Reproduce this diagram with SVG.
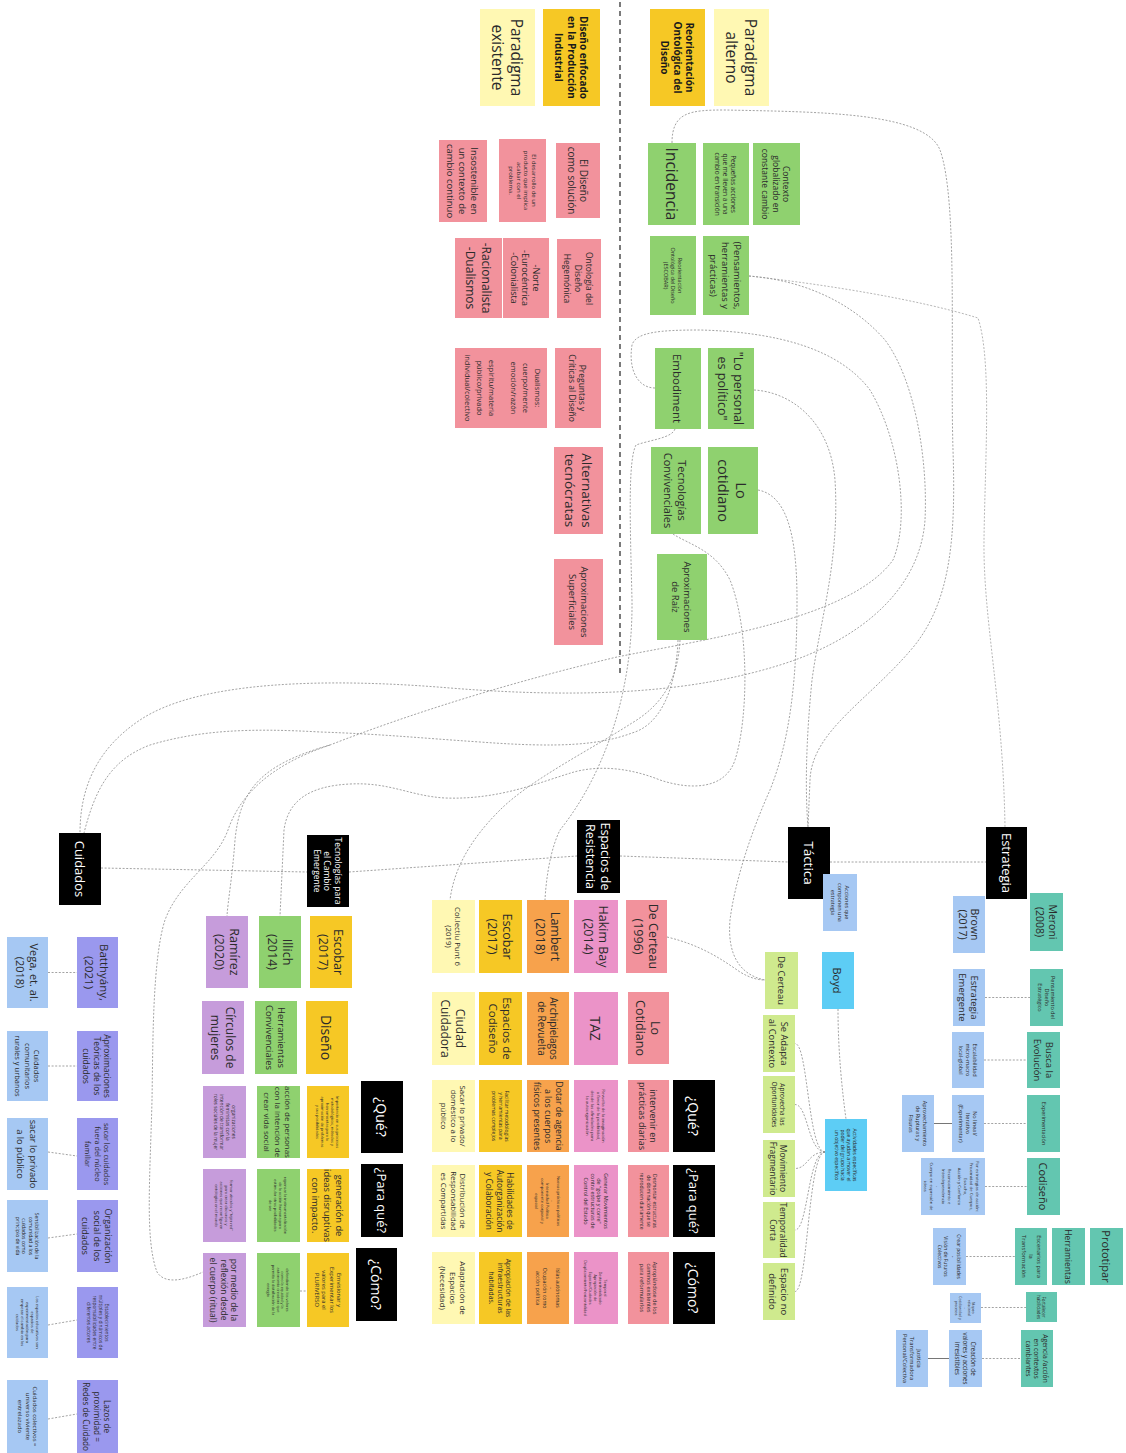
<svg xmlns="http://www.w3.org/2000/svg" width="1126" height="1453" viewBox="0 0 1126 1453">
<style>
text{font-family:"Open Sans","Liberation Sans",sans-serif;fill:#2b2b2b;text-anchor:middle;dominant-baseline:central}
.w text,text.w{fill:#fff}
.b{font-weight:bold;fill:#1a1a1a}
.py{fill:#FFF8B3}.gd{fill:#F6C825}.pk{fill:#F2929C}.gr{fill:#8FD16F}.bk{fill:#000}
.bl{fill:#A6C8F3}.tl{fill:#63C6B0}.cy{fill:#5DCDF5}.lm{fill:#CFEA8E}.mg{fill:#EB93C8}
.or{fill:#F7A24C}.pu{fill:#C69CDB}.pw{fill:#9A98EE}
.c{fill:none;stroke:#8c8c8c;stroke-width:0.8;stroke-dasharray:2 1.6}
.s{fill:none;stroke:#666;stroke-width:0.9}
.sep{fill:none;stroke:#222;stroke-width:1.2;stroke-dasharray:5 4}
</style>
<rect width="1126" height="1453" fill="#fff"/>

<g id="connectors">
<path class="sep" d="M620,2 L620,676"/>
<path class="c" d="M672,143 C672,112 690,110 725,110 C820,112 925,112 940,150 C958,200 950,350 953,450 C956,540 950,600 915,645 C870,700 812,730 810,780 L808,827"/>
<path class="c" d="M749,276 C830,285 920,300 978,318 C992,360 985,460 984,540 C983,620 1003,700 1005,827" stroke-opacity="0.8"/>
<path class="c" d="M749,276 C800,280 850,300 885,340 C915,380 928,460 925,520 C920,590 860,640 780,665 C700,690 600,700 450,688 C330,678 200,680 140,720 C95,750 80,790 80,833"/>
<path class="c" d="M754,390 C790,392 830,420 835,480 C840,560 820,620 812,680 C806,740 805,790 808,827"/>
<path class="c" d="M758,490 C785,495 797,530 797,600 C797,680 790,740 770,790 C752,830 735,880 730,920 C727,955 740,975 765,980"/>
<path class="c" d="M667,937 C700,945 720,958 740,972 C750,978 758,980 765,980"/>
<path class="c" d="M655,388 C638,388 628,370 632,345 C636,332 660,330 700,330 C780,332 840,350 870,390 C900,440 910,520 893,560 C850,620 700,640 617,657 C520,680 420,710 330,745 C260,765 240,790 235,840 C232,880 228,900 227,916"/>
<path class="c" d="M330,745 C270,765 240,795 228,830 C215,865 180,880 165,920 C152,960 153,1050 152,1100 C150,1180 145,1240 157,1272 C165,1285 185,1280 203,1272"/>
<path class="c" d="M675,429 C672,438 650,440 636,445 C628,460 630,520 632,600 C633,700 600,780 560,830 C550,850 546,880 545,900"/>
<path class="c" d="M673,534 C690,545 715,550 730,580 C750,630 748,720 735,760 C725,790 690,790 660,780 C630,768 600,765 574,772 C540,782 500,800 445,798 C410,796 390,782 350,784 C310,786 288,800 284,830 L280,916"/>
<path class="c" d="M678,640 C676,690 660,725 632,733 C600,745 560,748 480,742 C420,738 380,734 320,732 C250,728 200,730 150,745 C110,760 95,790 84,833"/>
<path class="c" d="M680,640 C678,680 662,705 632,723 C590,750 530,780 500,810 C480,830 455,860 450,900"/>
<path class="c" d="M101,868 L307,872"/>
<path class="c" d="M349,872 L577,856"/>
<path class="c" d="M620,856 L788,862"/>
<path class="c" d="M830,862 L986,862"/>
<path class="c" d="M838,1009 C838,1050 842,1090 846,1119"/>
<path class="c" d="M825,1152 C808,1152 808,1043.5 795,1043.5"/>
<path class="c" d="M825,1152 C808,1152 808,1104.5 795,1104.5"/>
<path class="c" d="M825,1152 C808,1152 808,1168.5 795,1168.5"/>
<path class="c" d="M825,1152 C808,1152 808,1230 795,1230"/>
<path class="c" d="M825,1152 C808,1152 808,1291.5 795,1291.5"/>
<path class="c" d="M985,997.5 L1030,997.5"/>
<path class="c" d="M984,1060 L1027,1060"/>
<path class="c" d="M984,1123.5 L1027,1123.5"/>
<path class="c" d="M985,1186.5 L1027,1186.5"/>
<path class="c" d="M966,1256.5 L1015,1256.5"/>
<path class="c" d="M981,1307.5 L1026,1307.5"/>
<path class="c" d="M982,1358.5 L1021,1358.5"/>
<path class="s" d="M934,1123.5 L952,1123.5"/>
<path class="s" d="M928,1358.5 L949,1358.5"/>
<path class="c" d="M48,972.5 L77,972.5"/>
<path class="c" d="M48,1066 L77,1066"/>
<path class="c" d="M48,1152 L77,1156"/>
<path class="c" d="M48,1238 L77,1234"/>
<path class="c" d="M48,1325 L77,1320"/>
<path class="c" d="M48,1419 L77,1414"/>
<path class="c" d="M300,1291 L307,1291"/>
</g>

<g id="n-par-existente"><rect class="py" x="480" y="9" width="55" height="97"/><text transform="translate(507.5 57.5) rotate(90)" font-size="15.5"><tspan x="0" y="-9.7">Paradigma</tspan><tspan x="0" y="9.7">existente</tspan></text></g>
<g id="n-dis-industrial"><rect class="gd" x="543" y="9" width="57" height="97"/><text class="b" transform="translate(571.5 57.5) rotate(90)" font-size="10"><tspan x="0" y="-12.5">Diseño enfocado</tspan><tspan x="0" y="0">en la Producción</tspan><tspan x="0" y="12.5">Industrial</tspan></text></g>
<g id="n-reorientacion"><rect class="gd" x="650" y="9" width="55" height="97"/><text class="b" transform="translate(677.5 57.5) rotate(90)" font-size="10"><tspan x="0" y="-12.5">Reorientación</tspan><tspan x="0" y="0">Ontológica del</tspan><tspan x="0" y="12.5">Diseño</tspan></text></g>
<g id="n-par-alterno"><rect class="py" x="714" y="9" width="55" height="97"/><text transform="translate(741.5 57.5) rotate(90)" font-size="15.5"><tspan x="0" y="-9.7">Paradigma</tspan><tspan x="0" y="9.7">alterno</tspan></text></g>

<g id="n-insostenible"><rect class="pk" x="439" y="140" width="48" height="82"/><text transform="translate(463 181) rotate(90)" font-size="9.5"><tspan x="0" y="-11.9">Insostenible en</tspan><tspan x="0" y="0">un contexto de</tspan><tspan x="0" y="11.9">cambio continuo</tspan></text></g>
<g id="n-desarrollo"><rect class="pk" x="499" y="139" width="47" height="83"/><text transform="translate(522.5 180.5) rotate(90)" font-size="6"><tspan x="0" y="-11.25">El desarrollo de un</tspan><tspan x="0" y="-3.75">producto que implica</tspan><tspan x="0" y="3.75">acabar con el</tspan><tspan x="0" y="11.25">problema.</tspan></text></g>
<g id="n-diseno-solucion"><rect class="pk" x="556" y="143" width="44" height="75"/><text transform="translate(578 180.5) rotate(90)" font-size="10"><tspan x="0" y="-6.25">El Diseño</tspan><tspan x="0" y="6.25">como solución</tspan></text></g>
<g id="n-racionalista"><rect class="pk" x="455" y="238" width="47" height="80"/><text transform="translate(478.5 278) rotate(90)" font-size="12"><tspan x="0" y="-8">-Racionalista</tspan><tspan x="0" y="8">-Dualismos</tspan></text></g>
<g id="n-norte"><rect class="pk" x="503" y="238" width="46" height="80"/><text transform="translate(526 278) rotate(90)" font-size="9"><tspan x="0" y="-11">-Norte</tspan><tspan x="0" y="0">-Eurocéntrica</tspan><tspan x="0" y="11">-Colonialista</tspan></text></g>
<g id="n-ontologia-heg"><rect class="pk" x="557" y="239" width="44" height="79"/><text transform="translate(579 278.5) rotate(90)" font-size="8.5"><tspan x="0" y="-10.6">Ontología del</tspan><tspan x="0" y="0">Diseño</tspan><tspan x="0" y="10.6">Hegemónica</tspan></text></g>
<g id="n-dualismos"><rect class="pk" x="455" y="348" width="92" height="80"/><text transform="translate(501 388) rotate(90)" font-size="7.5"><tspan x="0" y="-37">Dualismos:</tspan><tspan x="0" y="-25">cuerpo/mente</tspan><tspan x="0" y="-13">emoción/razón</tspan><tspan x="0" y="9">espíritu/materia</tspan><tspan x="0" y="21">público/privado</tspan><tspan x="0" y="33">individual/colectivo</tspan></text></g>
<g id="n-preguntas"><rect class="pk" x="555" y="348" width="46" height="80"/><text transform="translate(578 388) rotate(90)" font-size="8.5"><tspan x="0" y="-5.3">Preguntas y</tspan><tspan x="0" y="5.3">Críticas al Diseño</tspan></text></g>
<g id="n-alternativas"><rect class="pk" x="554" y="447" width="49" height="87"/><text transform="translate(578.5 490.5) rotate(90)" font-size="13.5"><tspan x="0" y="-8.5">Alternativas</tspan><tspan x="0" y="8.5">tecnócratas</tspan></text></g>
<g id="n-aprox-sup"><rect class="pk" x="554" y="559" width="49" height="86"/><text transform="translate(578.5 602) rotate(90)" font-size="9.5"><tspan x="0" y="-6">Aproximaciones</tspan><tspan x="0" y="6">Superficiales</tspan></text></g>

<g id="n-incidencia"><rect class="gr" x="648" y="143" width="48" height="82"/><text transform="translate(672 184) rotate(90)" font-size="15.5"><tspan x="0" y="0">Incidencia</tspan></text></g>
<g id="n-pequenas"><rect class="gr" x="703" y="143" width="46" height="82"/><text transform="translate(726 184) rotate(90)" font-size="6.5"><tspan x="0" y="-8.1">Pequeñas acciones</tspan><tspan x="0" y="0">que me lleven a una</tspan><tspan x="0" y="8.1">cambio en transición</tspan></text></g>
<g id="n-contexto"><rect class="gr" x="753" y="143" width="47" height="82"/><text transform="translate(776.5 184) rotate(90)" font-size="8.5"><tspan x="0" y="-10.6">Contexto</tspan><tspan x="0" y="0">globalizado en</tspan><tspan x="0" y="10.6">constante cambio</tspan></text></g>
<g id="n-reorient-escobar"><rect class="gr" x="650" y="236" width="46" height="79"/><text transform="translate(673 275.5) rotate(90)" font-size="5.5"><tspan x="0" y="-6.9">Reorientación</tspan><tspan x="0" y="0">Ontológica del Diseño</tspan><tspan x="0" y="6.9">(ESCOBAR)</tspan></text></g>
<g id="n-pensamientos"><rect class="gr" x="703" y="236" width="46" height="79"/><text transform="translate(726 275.5) rotate(90)" font-size="9.5"><tspan x="0" y="-11.9">(Pensamientos,</tspan><tspan x="0" y="0">herramientas y</tspan><tspan x="0" y="11.9">prácticas)</tspan></text></g>
<g id="n-embodiment"><rect class="gr" x="655" y="348" width="46" height="81"/><text transform="translate(678 388.5) rotate(90)" font-size="11.5"><tspan x="0" y="0">Embodiment</tspan></text></g>
<g id="n-personal"><rect class="gr" x="708" y="348" width="46" height="81"/><text transform="translate(731 388.5) rotate(90)" font-size="12.5"><tspan x="0" y="-7.8">"Lo personal</tspan><tspan x="0" y="7.8">es político"</tspan></text></g>
<g id="n-tecnologias-conv"><rect class="gr" x="651" y="447" width="50" height="87"/><text transform="translate(676 490.5) rotate(90)" font-size="11"><tspan x="0" y="-6.9">Tecnologías</tspan><tspan x="0" y="6.9">Convivenciales</tspan></text></g>
<g id="n-lo-cotidiano"><rect class="gr" x="708" y="447" width="50" height="87"/><text transform="translate(733 490.5) rotate(90)" font-size="14.5"><tspan x="0" y="-9">Lo</tspan><tspan x="0" y="9">cotidiano</tspan></text></g>
<g id="n-aprox-raiz"><rect class="gr" x="657" y="554" width="50" height="86"/><text transform="translate(682 597) rotate(90)" font-size="9.5"><tspan x="0" y="-6">Aproximaciones</tspan><tspan x="0" y="6">de Raíz</tspan></text></g>

<g id="n-estrategia"><rect class="bk" x="986" y="827" width="41" height="72"/><text class="w" transform="translate(1006.5 863) rotate(90)" font-size="13"><tspan x="0" y="0">Estrategia</tspan></text></g>
<g id="n-tactica"><rect class="bk" x="788" y="827" width="42" height="72"/><text class="w" transform="translate(809 863) rotate(90)" font-size="13.5"><tspan x="0" y="0">Táctica</tspan></text></g>
<g id="n-esp-resistencia"><rect class="bk" x="577" y="820" width="43" height="73"/><text class="w" transform="translate(598.5 856.5) rotate(90)" font-size="12.5"><tspan x="0" y="-7.5">Espacios de</tspan><tspan x="0" y="7.5">Resistencia</tspan></text></g>
<g id="n-tec-cambio"><rect class="bk" x="307" y="835" width="42" height="72"/><text class="w" transform="translate(328 871) rotate(90)" font-size="8.5"><tspan x="0" y="-10.5">Tecnologías para</tspan><tspan x="0" y="0">el Cambio</tspan><tspan x="0" y="10.5">Emergente</tspan></text></g>
<g id="n-cuidados"><rect class="bk" x="59" y="833" width="42" height="72"/><text class="w" transform="translate(80 869) rotate(90)" font-size="13"><tspan x="0" y="0">Cuidados</tspan></text></g>

<g id="n-brown"><rect class="bl" x="953" y="896" width="32" height="57"/><text transform="translate(969 924.5) rotate(90)" font-size="10.5"><tspan x="0" y="-6.25">Brown</tspan><tspan x="0" y="6.25">(2017)</tspan></text></g>
<g id="n-meroni"><rect class="tl" x="1030" y="893" width="33" height="58"/><text transform="translate(1046.5 922) rotate(90)" font-size="10.5"><tspan x="0" y="-6.25">Meroni</tspan><tspan x="0" y="6.25">(2008)</tspan></text></g>
<g id="n-est-emergente"><rect class="bl" x="953" y="969" width="32" height="57"/><text transform="translate(969 997.5) rotate(90)" font-size="9.5"><tspan x="0" y="-6">Estrategia</tspan><tspan x="0" y="6">Emergente</tspan></text></g>
<g id="n-pens-estrategico"><rect class="tl" x="1030" y="969" width="33" height="57"/><text transform="translate(1046.5 997.5) rotate(90)" font-size="5.5"><tspan x="0" y="-6.9">Pensamiento del</tspan><tspan x="0" y="0">Diseño</tspan><tspan x="0" y="6.9">Estratégico</tspan></text></g>
<g id="n-escalabilidad"><rect class="bl" x="952" y="1032" width="32" height="56"/><text transform="translate(968 1060) rotate(90)" font-size="5.5"><tspan x="0" y="-6.9">Escalabilidad</tspan><tspan x="0" y="0">micro-macro</tspan><tspan x="0" y="6.9">local-global</tspan></text></g>
<g id="n-busca"><rect class="tl" x="1027" y="1032" width="33" height="56"/><text transform="translate(1043.5 1060) rotate(90)" font-size="9.5"><tspan x="0" y="-6">Busca la</tspan><tspan x="0" y="6">Evolución</tspan></text></g>
<g id="n-no-lineal"><rect class="bl" x="952" y="1095" width="32" height="57"/><text transform="translate(968 1123.5) rotate(90)" font-size="5.5"><tspan x="0" y="-6.9">No lineal/</tspan><tspan x="0" y="0">Iterativo</tspan><tspan x="0" y="6.9">(Experimentar)</tspan></text></g>
<g id="n-experimentacion"><rect class="tl" x="1027" y="1095" width="33" height="57"/><text transform="translate(1043.5 1123.5) rotate(90)" font-size="5.5"><tspan x="0" y="0">Experimentación</tspan></text></g>
<g id="n-aprovechamiento"><rect class="bl" x="902" y="1095" width="32" height="57"/><text transform="translate(918 1123.5) rotate(90)" font-size="5.5"><tspan x="0" y="-6.9">Aprovechamiento</tspan><tspan x="0" y="0">de Rupturas y</tspan><tspan x="0" y="6.9">Fisuras</tspan></text></g>
<g id="n-codiseno"><rect class="tl" x="1027" y="1158" width="33" height="57"/><text transform="translate(1043.5 1186.5) rotate(90)" font-size="11"><tspan x="0" y="0">Codiseño</tspan></text></g>
<g id="n-codiseno-acciones"><rect class="bl" x="921" y="1158" width="64" height="57"/><text transform="translate(953 1186.5) rotate(90)" font-size="4.3"><tspan x="0" y="-25">Por estrategias de acción:</tspan><tspan x="0" y="-19">Proximidad de Cuerpos,</tspan><tspan x="0" y="-13">Escucha,</tspan><tspan x="0" y="-7">Acción y Confianza</tspan><tspan x="0" y="3">Reconocimiento e</tspan><tspan x="0" y="9">Interdependencia</tspan><tspan x="0" y="15">-</tspan><tspan x="0" y="21">Cuerpo en expresión de</tspan><tspan x="0" y="27">ideas</tspan></text></g>
<g id="n-prototipar"><rect class="tl" x="1090" y="1228" width="33" height="57"/><text transform="translate(1106.5 1256.5) rotate(90)" font-size="11"><tspan x="0" y="0">Prototipar</tspan></text></g>
<g id="n-herramientas"><rect class="tl" x="1052" y="1228" width="33" height="57"/><text transform="translate(1068.5 1256.5) rotate(90)" font-size="8.5"><tspan x="0" y="0">Herramientas</tspan></text></g>
<g id="n-escenarios"><rect class="tl" x="1015" y="1228" width="32" height="57"/><text transform="translate(1031 1256.5) rotate(90)" font-size="5.8"><tspan x="0" y="-7.5">Escenarios para</tspan><tspan x="0" y="0">la</tspan><tspan x="0" y="7.5">Transformación</tspan></text></g>
<g id="n-crear-pos"><rect class="bl" x="933" y="1228" width="33" height="57"/><text transform="translate(949.5 1256.5) rotate(90)" font-size="5"><tspan x="0" y="-9.45">Crear posibilidades</tspan><tspan x="0" y="-3.15">-</tspan><tspan x="0" y="3.15">Visión de Futuros</tspan><tspan x="0" y="9.45">Colectivos</tspan></text></g>
<g id="n-fortalecer"><rect class="tl" x="1026" y="1292" width="31" height="30"/><text transform="translate(1041.5 1307) rotate(90)" font-size="4.5"><tspan x="0" y="-2.8">Fortalecer</tspan><tspan x="0" y="2.8">habilidades</tspan></text></g>
<g id="n-mapeo"><rect class="bl" x="950" y="1293" width="31" height="30"/><text transform="translate(965.5 1308) rotate(90)" font-size="3.5"><tspan x="0" y="-8.8">Mapeo</tspan><tspan x="0" y="-4.4">relacional</tspan><tspan x="0" y="0">-</tspan><tspan x="0" y="4.4">Cotidianidad y</tspan><tspan x="0" y="8.8">procesos</tspan></text></g>
<g id="n-agencia"><rect class="tl" x="1021" y="1330" width="32" height="57"/><text transform="translate(1037 1358.5) rotate(90)" font-size="6.7"><tspan x="0" y="-8.5">Agencia /acción</tspan><tspan x="0" y="0">en contextos</tspan><tspan x="0" y="8.5">cambiantes</tspan></text></g>
<g id="n-creacion"><rect class="bl" x="949" y="1330" width="33" height="57"/><text transform="translate(965.5 1358.5) rotate(90)" font-size="6.2"><tspan x="0" y="-8">Creación de</tspan><tspan x="0" y="0">valores y acciones</tspan><tspan x="0" y="8">irresistibles</tspan></text></g>
<g id="n-justicia"><rect class="bl" x="896" y="1330" width="32" height="57"/><text transform="translate(912 1358.5) rotate(90)" font-size="5.7"><tspan x="0" y="-7.3">Justicia</tspan><tspan x="0" y="0">Transformadora</tspan><tspan x="0" y="7.3">Personal/Colectiva</tspan></text></g>

<g id="n-acciones-comp"><rect class="bl" x="823" y="874" width="34" height="57"/><text transform="translate(840 902.5) rotate(90)" font-size="5.5"><tspan x="0" y="-6.9">Acciones que</tspan><tspan x="0" y="0">componen una</tspan><tspan x="0" y="6.9">estrategia</tspan></text></g>
<g id="n-boyd"><rect class="cy" x="822" y="952" width="32" height="57"/><text transform="translate(838 980.5) rotate(90)" font-size="11"><tspan x="0" y="0">Boyd</tspan></text></g>
<g id="n-decerteau-g"><rect class="lm" x="765" y="952" width="33" height="57"/><text transform="translate(781.5 980.5) rotate(90)" font-size="9.3"><tspan x="0" y="0">De Certeau</tspan></text></g>
<g id="n-se-adapta"><rect class="lm" x="763" y="1015" width="32" height="57"/><text transform="translate(779 1043.5) rotate(90)" font-size="9.3"><tspan x="0" y="-5.75">Se Adapta</tspan><tspan x="0" y="5.75">al Contexto</tspan></text></g>
<g id="n-aprovecha"><rect class="lm" x="763" y="1076" width="32" height="57"/><text transform="translate(779 1104.5) rotate(90)" font-size="6.5"><tspan x="0" y="-4">Aprovecha las</tspan><tspan x="0" y="4">Oportunidades</tspan></text></g>
<g id="n-movimiento"><rect class="lm" x="763" y="1140" width="32" height="57"/><text transform="translate(779 1168.5) rotate(90)" font-size="8.5"><tspan x="0" y="-5.25">Movimiento</tspan><tspan x="0" y="5.25">Fragmentario</tspan></text></g>
<g id="n-temporalidad"><rect class="lm" x="763" y="1202" width="32" height="56"/><text transform="translate(779 1230) rotate(90)" font-size="8.5"><tspan x="0" y="-5.25">Temporalidad</tspan><tspan x="0" y="5.25">Corta</tspan></text></g>
<g id="n-espacio-no"><rect class="lm" x="763" y="1263" width="32" height="57"/><text transform="translate(779 1291.5) rotate(90)" font-size="9.5"><tspan x="0" y="-5.75">Espacio no</tspan><tspan x="0" y="5.75">definido</tspan></text></g>
<g id="n-actividades"><rect class="cy" x="825" y="1119" width="42" height="72"/><text transform="translate(846 1155) rotate(90)" font-size="5"><tspan x="0" y="-9.45">Actividades específicas</tspan><tspan x="0" y="-3.15">que ayudan a mover el</tspan><tspan x="0" y="3.15">poder del grupo hacia</tspan><tspan x="0" y="9.45">un objetivo específico</tspan></text></g>

<g id="n-decerteau-1996"><rect class="pk" x="626" y="900" width="41" height="73"/><text transform="translate(646.5 936.5) rotate(90)" font-size="12.5"><tspan x="0" y="-7.5">De Certeau</tspan><tspan x="0" y="7.5">(1996)</tspan></text></g>
<g id="n-lo-cotidiano-p"><rect class="pk" x="628" y="992" width="41" height="72"/><text transform="translate(648.5 1028) rotate(90)" font-size="12.5"><tspan x="0" y="-7.5">Lo</tspan><tspan x="0" y="7.5">Cotidiano</tspan></text></g>
<g id="n-que-1"><rect class="bk" x="673" y="1080" width="42" height="72"/><text class="w" transform="translate(694 1116) rotate(90)" font-size="14"><tspan x="0" y="0">¿Qué?</tspan></text></g>
<g id="n-intervenir"><rect class="pk" x="628" y="1080" width="41" height="72"/><text transform="translate(648.5 1116) rotate(90)" font-size="9"><tspan x="0" y="-5.5">intervenir en</tspan><tspan x="0" y="5.5">prácticas diarias</tspan></text></g>
<g id="n-paraque-1"><rect class="bk" x="673" y="1165" width="42" height="72"/><text class="w" transform="translate(694 1201) rotate(90)" font-size="13"><tspan x="0" y="0">¿Para qué?</tspan></text></g>
<g id="n-desmontar"><rect class="pk" x="628" y="1165" width="41" height="72"/><text transform="translate(648.5 1201) rotate(90)" font-size="5"><tspan x="0" y="-6.3">Desmontar estructuras</tspan><tspan x="0" y="0">de dominación que se</tspan><tspan x="0" y="6.3">reproducen diariamente</tspan></text></g>
<g id="n-como-1"><rect class="bk" x="673" y="1252" width="42" height="72"/><text class="w" transform="translate(694 1288) rotate(90)" font-size="14"><tspan x="0" y="0">¿Cómo?</tspan></text></g>
<g id="n-apropiandose"><rect class="pk" x="628" y="1252" width="41" height="72"/><text transform="translate(648.5 1288) rotate(90)" font-size="5.5"><tspan x="0" y="-6.9">Apropiándose de los</tspan><tspan x="0" y="0">caminos existentes</tspan><tspan x="0" y="6.9">para reformularlos</tspan></text></g>

<g id="n-hakim"><rect class="mg" x="574" y="900" width="44" height="73"/><text transform="translate(596 936.5) rotate(90)" font-size="12.5"><tspan x="0" y="-7.5">Hakim Bay</tspan><tspan x="0" y="7.5">(2014)</tspan></text></g>
<g id="n-taz"><rect class="mg" x="574" y="992" width="44" height="73"/><text transform="translate(596 1028.5) rotate(90)" font-size="14"><tspan x="0" y="0">TAZ</tspan></text></g>
<g id="n-revuelta"><rect class="mg" x="574" y="1080" width="44" height="72"/><text transform="translate(596 1116) rotate(90)" font-size="4.3"><tspan x="0" y="-8.1">Revuelta de la imaginación</tspan><tspan x="0" y="-2.7">a favor de la posibilidad,</tspan><tspan x="0" y="2.7">desde las afinidades para</tspan><tspan x="0" y="8.1">la autoorganización</tspan></text></g>
<g id="n-generar"><rect class="mg" x="574" y="1165" width="44" height="72"/><text transform="translate(596 1201) rotate(90)" font-size="5.5"><tspan x="0" y="-10.35">Generar Movimientos</tspan><tspan x="0" y="-3.45">de "golpe y corre"</tspan><tspan x="0" y="3.45">contra estructuras de</tspan><tspan x="0" y="10.35">Control del Estado</tspan></text></g>
<g id="n-temporal"><rect class="mg" x="574" y="1252" width="44" height="72"/><text transform="translate(596 1288) rotate(90)" font-size="3.8"><tspan x="0" y="-9.6">Temporal</tspan><tspan x="0" y="-4.8">Desterritorializado</tspan><tspan x="0" y="0">Apropiación de</tspan><tspan x="0" y="4.8">Espacios/Ciudades</tspan><tspan x="0" y="9.6">Desplazamiento/horizontalidad</tspan></text></g>

<g id="n-lambert"><rect class="or" x="527" y="900" width="42" height="73"/><text transform="translate(548 936.5) rotate(90)" font-size="12.5"><tspan x="0" y="-7.5">Lambert</tspan><tspan x="0" y="7.5">(2018)</tspan></text></g>
<g id="n-archipielagos"><rect class="or" x="527" y="992" width="42" height="73"/><text transform="translate(548 1028.5) rotate(90)" font-size="10"><tspan x="0" y="-6.25">Archipielagos</tspan><tspan x="0" y="6.25">de Revuelta</tspan></text></g>
<g id="n-dotar"><rect class="or" x="527" y="1080" width="42" height="72"/><text transform="translate(548 1116) rotate(90)" font-size="8.8"><tspan x="0" y="-11">Dotar de agencia</tspan><tspan x="0" y="0">a los cuerpos</tspan><tspan x="0" y="11">físicos presentes</tspan></text></g>
<g id="n-nuevas"><rect class="or" x="527" y="1165" width="42" height="72"/><text transform="translate(548 1201) rotate(90)" font-size="4.2"><tspan x="0" y="-10.6">Nuevas prácticas políticas</tspan><tspan x="0" y="-5.3">-</tspan><tspan x="0" y="0">Intensidad Política</tspan><tspan x="0" y="5.3">componente corporal y</tspan><tspan x="0" y="10.6">espacial</tspan></text></g>
<g id="n-islas"><rect class="or" x="527" y="1252" width="42" height="72"/><text transform="translate(548 1288) rotate(90)" font-size="5.2"><tspan x="0" y="-9.75">Islas autónomas</tspan><tspan x="0" y="-3.25">-</tspan><tspan x="0" y="3.25">Ocupación como</tspan><tspan x="0" y="9.75">acción política</tspan></text></g>

<g id="n-escobar-1"><rect class="gd" x="479" y="900" width="43" height="73"/><text transform="translate(500.5 936.5) rotate(90)" font-size="12.5"><tspan x="0" y="-7.5">Escobar</tspan><tspan x="0" y="7.5">(2017)</tspan></text></g>
<g id="n-esp-codiseno"><rect class="gd" x="479" y="992" width="43" height="73"/><text transform="translate(500.5 1028.5) rotate(90)" font-size="11.5"><tspan x="0" y="-7">Espacios de</tspan><tspan x="0" y="7">Codiseño</tspan></text></g>
<g id="n-facilitar"><rect class="gd" x="479" y="1080" width="43" height="72"/><text transform="translate(500.5 1116) rotate(90)" font-size="5"><tspan x="0" y="-6.3">Facilitar metodologías</tspan><tspan x="0" y="0">y herramientas para</tspan><tspan x="0" y="6.3">problemas complejos</tspan></text></g>
<g id="n-habilidades"><rect class="gd" x="479" y="1165" width="43" height="72"/><text transform="translate(500.5 1201) rotate(90)" font-size="8.3"><tspan x="0" y="-10.4">Habilidades de</tspan><tspan x="0" y="0">Autorganización</tspan><tspan x="0" y="10.4">y Colaboración</tspan></text></g>
<g id="n-apropiacion"><rect class="gd" x="479" y="1252" width="43" height="72"/><text transform="translate(500.5 1288) rotate(90)" font-size="6.8"><tspan x="0" y="-8.5">Apropiación de las</tspan><tspan x="0" y="0">infraestructuras</tspan><tspan x="0" y="8.5">habitadas.</tspan></text></g>

<g id="n-collectiu"><rect class="py" x="432" y="900" width="43" height="73"/><text transform="translate(453.5 936.5) rotate(90)" font-size="7.8"><tspan x="0" y="-4.9">Col.lectiu Punt 6</tspan><tspan x="0" y="4.9">(2019)</tspan></text></g>
<g id="n-ciudad"><rect class="py" x="432" y="992" width="43" height="73"/><text transform="translate(453.5 1028.5) rotate(90)" font-size="12"><tspan x="0" y="-7.5">Ciudad</tspan><tspan x="0" y="7.5">Cuidadora</tspan></text></g>
<g id="n-sacar-priv"><rect class="py" x="432" y="1080" width="43" height="72"/><text transform="translate(453.5 1116) rotate(90)" font-size="7.8"><tspan x="0" y="-9.75">Sacar lo privado/</tspan><tspan x="0" y="0">doméstico a lo</tspan><tspan x="0" y="9.75">público</tspan></text></g>
<g id="n-distribucion"><rect class="py" x="432" y="1165" width="43" height="72"/><text transform="translate(453.5 1201) rotate(90)" font-size="7.8"><tspan x="0" y="-9.75">Distribución de</tspan><tspan x="0" y="0">Responsabilidad</tspan><tspan x="0" y="9.75">es Compartidas</tspan></text></g>
<g id="n-adaptacion"><rect class="py" x="432" y="1252" width="43" height="72"/><text transform="translate(453.5 1288) rotate(90)" font-size="8"><tspan x="0" y="-10">Adaptación de</tspan><tspan x="0" y="0">Espacios</tspan><tspan x="0" y="10">(Necesidad)</tspan></text></g>

<g id="n-escobar-2"><rect class="gd" x="310" y="916" width="42" height="72"/><text transform="translate(331 952) rotate(90)" font-size="12.5"><tspan x="0" y="-7.5">Escobar</tspan><tspan x="0" y="7.5">(2017)</tspan></text></g>
<g id="n-illich"><rect class="gr" x="259" y="916" width="42" height="72"/><text transform="translate(280 952) rotate(90)" font-size="12.5"><tspan x="0" y="-7.5">Illich</tspan><tspan x="0" y="7.5">(2014)</tspan></text></g>
<g id="n-ramirez"><rect class="pu" x="206" y="916" width="42" height="72"/><text transform="translate(227 952) rotate(90)" font-size="12.5"><tspan x="0" y="-7.5">Ramírez</tspan><tspan x="0" y="7.5">(2020)</tspan></text></g>
<g id="n-diseno"><rect class="gd" x="306" y="1001" width="42" height="73"/><text transform="translate(327 1037.5) rotate(90)" font-size="14"><tspan x="0" y="0">Diseño</tspan></text></g>
<g id="n-herr-conv"><rect class="gr" x="255" y="1001" width="42" height="73"/><text transform="translate(276 1037.5) rotate(90)" font-size="9.5"><tspan x="0" y="-6">Herramientas</tspan><tspan x="0" y="6">Convivenciales</tspan></text></g>
<g id="n-circulos"><rect class="pu" x="202" y="1001" width="42" height="73"/><text transform="translate(223 1037.5) rotate(90)" font-size="12"><tspan x="0" y="-7.5">Círculos de</tspan><tspan x="0" y="7.5">mujeres</tspan></text></g>
<g id="n-que-2"><rect class="bk" x="361" y="1081" width="42" height="72"/><text class="w" transform="translate(382 1117) rotate(90)" font-size="14"><tspan x="0" y="0">¿Qué?</tspan></text></g>
<g id="n-importancia"><rect class="gd" x="307" y="1086" width="42" height="72"/><text transform="translate(328 1122) rotate(90)" font-size="3.9"><tspan x="0" y="-9.8">Importancia en sus procesos</tspan><tspan x="0" y="-4.9">metodológicos, métodos y</tspan><tspan x="0" y="0">herramientas para la</tspan><tspan x="0" y="4.9">aproximación de problemas</tspan><tspan x="0" y="9.8">y sus posibilidades</tspan></text></g>
<g id="n-accion"><rect class="gr" x="257" y="1086" width="43" height="72"/><text transform="translate(278.5 1122) rotate(90)" font-size="8"><tspan x="0" y="-10.2">acción de personas</tspan><tspan x="0" y="0">con la intención de</tspan><tspan x="0" y="10.2">crear vida social</tspan></text></g>
<g id="n-organizaciones"><rect class="pu" x="203" y="1086" width="43" height="72"/><text transform="translate(224.5 1122) rotate(90)" font-size="4.8"><tspan x="0" y="-9">organizaciones</tspan><tspan x="0" y="-3">feministas con la</tspan><tspan x="0" y="3">intención de transformar</tspan><tspan x="0" y="9">roles sociales de la mujer</tspan></text></g>
<g id="n-paraque-2"><rect class="bk" x="361" y="1164" width="42" height="73"/><text class="w" transform="translate(382 1200.5) rotate(90)" font-size="13"><tspan x="0" y="0">¿Para qué?</tspan></text></g>
<g id="n-generacion"><rect class="gd" x="307" y="1169" width="42" height="73"/><text transform="translate(328 1205.5) rotate(90)" font-size="9.3"><tspan x="0" y="-11.6">generación de</tspan><tspan x="0" y="0">ideas disruptivas</tspan><tspan x="0" y="11.6">con impacto.</tspan></text></g>
<g id="n-repensar"><rect class="gr" x="257" y="1169" width="43" height="73"/><text transform="translate(278.5 1205.5) rotate(90)" font-size="3.9"><tspan x="0" y="-7.35">repensar la instrumentalización</tspan><tspan x="0" y="-2.45">de la acción humana para</tspan><tspan x="0" y="2.45">estimular otras posibilidades</tspan><tspan x="0" y="7.35">de ser</tspan></text></g>
<g id="n-formar"><rect class="pu" x="203" y="1169" width="43" height="73"/><text transform="translate(224.5 1205.5) rotate(90)" font-size="3.9"><tspan x="0" y="-7.35">formar vínculos y "tejer red"</tspan><tspan x="0" y="-2.45">para crear discursos y</tspan><tspan x="0" y="2.45">acciones que reconfiguren</tspan><tspan x="0" y="7.35">ontologías en el mundo</tspan></text></g>
<g id="n-como-2"><rect class="bk" x="356" y="1248" width="41" height="73"/><text class="w" transform="translate(376.5 1284.5) rotate(90)" font-size="14"><tspan x="0" y="0">¿Cómo?</tspan></text></g>
<g id="n-emvisionar"><rect class="gd" x="307" y="1253" width="42" height="74"/><text transform="translate(328 1290) rotate(90)" font-size="5.8"><tspan x="0" y="-10.8">Emvisionar y</tspan><tspan x="0" y="-3.6">Experimentar los</tspan><tspan x="0" y="3.6">valores para el</tspan><tspan x="0" y="10.8">PLURIVERSO</tspan></text></g>
<g id="n-defendiendo"><rect class="gr" x="257" y="1253" width="43" height="74"/><text transform="translate(278.5 1290) rotate(90)" font-size="3.9"><tspan x="0" y="-9.8">defendiendo los valores</tspan><tspan x="0" y="-4.9">como la equidad y la</tspan><tspan x="0" y="0">autonomía creadora que</tspan><tspan x="0" y="4.9">permita la distribución de la</tspan><tspan x="0" y="9.8">energía</tspan></text></g>
<g id="n-por-medio"><rect class="pu" x="203" y="1253" width="43" height="74"/><text transform="translate(224.5 1290) rotate(90)" font-size="8.5"><tspan x="0" y="-10.6">por medio de la</tspan><tspan x="0" y="0">reflexión desde</tspan><tspan x="0" y="10.6">el cuerpo (ritual)</tspan></text></g>

<g id="n-batthyany"><rect class="pw" x="77" y="937" width="41" height="71"/><text transform="translate(97.5 972.5) rotate(90)" font-size="11.5"><tspan x="0" y="-7.2">Batthyány,</tspan><tspan x="0" y="7.2">(2021)</tspan></text></g>
<g id="n-vega"><rect class="bl" x="7" y="937" width="41" height="71"/><text transform="translate(27.5 972.5) rotate(90)" font-size="11"><tspan x="0" y="-7">Vega, et. al.</tspan><tspan x="0" y="7">(2018)</tspan></text></g>
<g id="n-aprox-teoricas"><rect class="pw" x="77" y="1031" width="41" height="70"/><text transform="translate(97.5 1066) rotate(90)" font-size="8.5"><tspan x="0" y="-10.6">Aproximaciones</tspan><tspan x="0" y="0">Teóricas de los</tspan><tspan x="0" y="10.6">cuidados</tspan></text></g>
<g id="n-cuid-comunitarios"><rect class="bl" x="7" y="1031" width="41" height="70"/><text transform="translate(27.5 1066) rotate(90)" font-size="7.5"><tspan x="0" y="-9.4">Cuidados</tspan><tspan x="0" y="0">comunitarios</tspan><tspan x="0" y="9.4">rurales y urbanos</tspan></text></g>
<g id="n-sacar-cuidados"><rect class="pw" x="77" y="1118" width="41" height="72"/><text transform="translate(97.5 1154) rotate(90)" font-size="7.3"><tspan x="0" y="-9.1">sacar los cuidados</tspan><tspan x="0" y="0">fuera del núcleo</tspan><tspan x="0" y="9.1">familiar</tspan></text></g>
<g id="n-sacar-publico"><rect class="bl" x="7" y="1118" width="41" height="72"/><text transform="translate(27.5 1154) rotate(90)" font-size="9.3"><tspan x="0" y="-6.5">sacar lo privado</tspan><tspan x="0" y="6.5">a lo público</tspan></text></g>
<g id="n-organizacion-social"><rect class="pw" x="77" y="1200" width="41" height="72"/><text transform="translate(97.5 1236) rotate(90)" font-size="9"><tspan x="0" y="-11.2">Organización</tspan><tspan x="0" y="0">social de los</tspan><tspan x="0" y="11.2">cuidados</tspan></text></g>
<g id="n-sensibilizacion"><rect class="bl" x="7" y="1200" width="41" height="72"/><text transform="translate(27.5 1236) rotate(90)" font-size="5"><tspan x="0" y="-9.45">Sensibilización de la</tspan><tspan x="0" y="-3.15">comunidad a los</tspan><tspan x="0" y="3.15">cuidados como</tspan><tspan x="0" y="9.45">principio de vida</tspan></text></g>
<g id="n-establecimientos"><rect class="pw" x="77" y="1287" width="41" height="71"/><text transform="translate(97.5 1322.5) rotate(90)" font-size="4.8"><tspan x="0" y="-9">Establecimientos</tspan><tspan x="0" y="-3">múltiples y dinámicos de</tspan><tspan x="0" y="3">responsabilidades entre</tspan><tspan x="0" y="9">diferentes actores</tspan></text></g>
<g id="n-espacios-educativos"><rect class="bl" x="7" y="1287" width="41" height="71"/><text transform="translate(27.5 1322.5) rotate(90)" font-size="4"><tspan x="0" y="-10">Los espacios educativos son</tspan><tspan x="0" y="-5">espacios de</tspan><tspan x="0" y="0">experimentación para</tspan><tspan x="0" y="5">empezar el cambio en los</tspan><tspan x="0" y="10">cuidados</tspan></text></g>
<g id="n-lazos"><rect class="pw" x="77" y="1380" width="41" height="73"/><text transform="translate(97.5 1416.5) rotate(90)" font-size="8.2"><tspan x="0" y="-10.5">Lazos de</tspan><tspan x="0" y="0">proximidad =</tspan><tspan x="0" y="10.5">Redes de Cuidado</tspan></text></g>
<g id="n-cuidados-colectivos"><rect class="bl" x="7" y="1380" width="41" height="73"/><text transform="translate(27.5 1416.5) rotate(90)" font-size="6"><tspan x="0" y="-7.6">Cuidados colectivos =</tspan><tspan x="0" y="0">universo viviente</tspan><tspan x="0" y="7.6">entrelazado</tspan></text></g>
</svg>
